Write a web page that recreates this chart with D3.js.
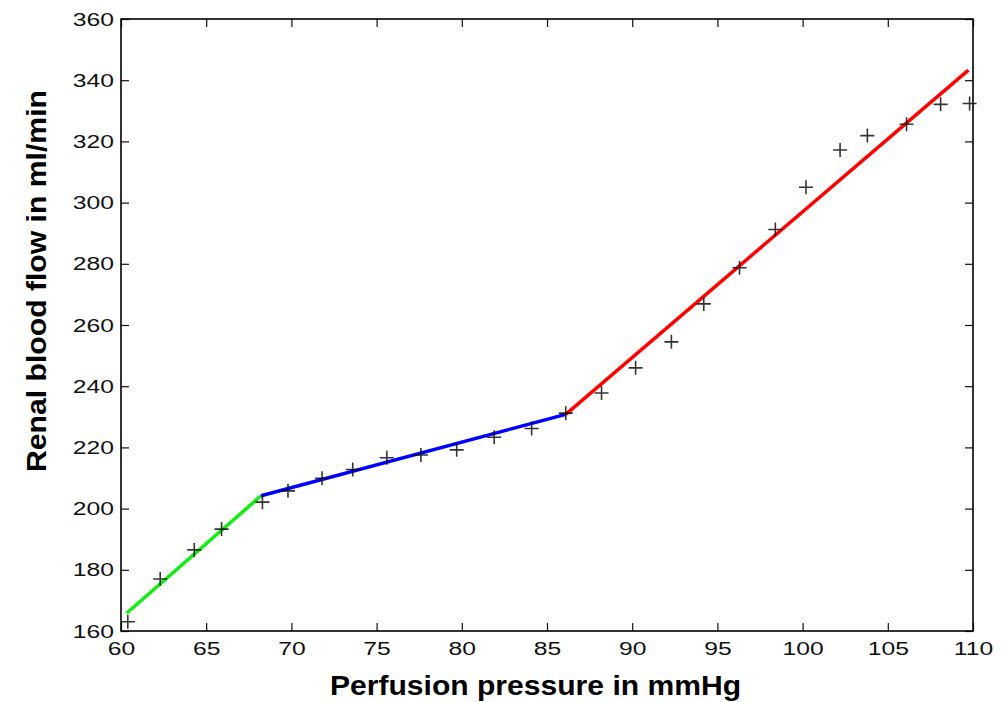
<!DOCTYPE html>
<html>
<head>
<meta charset="utf-8">
<script src="https://cdn.jsdelivr.net/npm/d3@7"></script>
<style>
    body { margin: 0; background: #fff; }
    .axis text { font-family: "Liberation Sans", Arial, sans-serif; font-size: 19px; fill: #111; }
    .axis path { display: none; }
    .axis line { stroke: #111; stroke-width: 1.2px; }
    .axis-label { font-family: "Liberation Sans", Arial, sans-serif; font-weight: bold; font-size: 28px; fill: #000; }
</style>
</head>
<body>
<div id="chart"></div>
<script>

// measured points (perfusion pressure, renal blood flow)
let pressure = [60.4, 62.3, 64.3, 65.9, 68.3, 69.8, 71.8, 73.6, 75.6, 77.6, 79.7, 81.9, 84.1,
    86.1, 88.2, 90.2, 92.3, 94.2, 96.3, 98.4, 100.2, 102.2, 103.8, 106.1, 108.1, 109.8];
let flow = [163.0, 177.0, 186.5, 193.3, 202.1, 205.8, 209.9, 212.8, 216.6, 217.5, 219.2, 223.3, 226.2,
    231.2, 237.8, 246.0, 254.5, 266.9, 278.7, 291.2, 305.0, 317.2, 321.9, 325.6, 332.1, 332.4];

// piecewise linear fit: breakpoints and segment colours
let fitX = [60.33, 68.22, 86.1, 109.73];
let fitY = [165.8, 204.2, 230.8, 343.3];
let segColors = ['#11ee11', '#0000ff', '#ff0000'];

let xTicks = [60, 65, 70, 75, 80, 85, 90, 95, 100, 105, 110];
let yTicks = [160, 180, 200, 220, 240, 260, 280, 300, 320, 340, 360];

let margin = {top: 19, right: 35, bottom: 71, left: 121};
let width = 1008 - margin.left - margin.right;
let height = 702 - margin.top - margin.bottom;

let svg = d3.select('#chart').append('svg')
    .attr('width', 1008)
    .attr('height', 702)
    .append('g')
    .attr('transform', `translate(${margin.left}, ${margin.top})`);

let x = d3.scaleLinear().domain([60, 110]).range([0, width]);
let y = d3.scaleLinear().domain([160, 360]).range([height, 0]);

// axes, ticks pointing inward
let tick = 8;
svg.append('g')
    .attr('class', 'axis')
    .attr('transform', `translate(0, ${height})`)
    .call(d3.axisBottom(x).tickValues(xTicks).tickSizeInner(-tick).tickSizeOuter(0).tickPadding(11))
    .selectAll('text')
    .attr('transform', 'scale(1.3,1)');

svg.append('g')
    .attr('class', 'axis')
    .call(d3.axisLeft(y).tickValues(yTicks).tickSizeInner(-tick).tickSizeOuter(0).tickPadding(7))
    .selectAll('text')
    .attr('x', -7 / 1.3)
    .attr('transform', 'scale(1.3,1)');

svg.append('g')
    .attr('class', 'axis')
    .call(d3.axisTop(x).tickValues(xTicks).tickSizeInner(-tick).tickSizeOuter(0).tickFormat(''));

svg.append('g')
    .attr('class', 'axis')
    .attr('transform', `translate(${width}, 0)`)
    .call(d3.axisRight(y).tickValues(yTicks).tickSizeInner(-tick).tickSizeOuter(0).tickFormat(''));

// frame
svg.append('rect')
    .attr('width', width)
    .attr('height', height)
    .attr('fill', 'none')
    .attr('stroke', '#000')
    .attr('stroke-width', 1.6);

// fitted segments
let segments = segColors.map((c, i) => ({
    color: c,
    pts: [[fitX[i], fitY[i]], [fitX[i + 1], fitY[i + 1]]]
}));

let line = d3.line().x(d => x(d[0])).y(d => y(d[1]));

svg.selectAll('.seg')
    .data(segments)
    .enter()
    .append('path')
    .attr('class', 'seg')
    .attr('d', d => line(d.pts))
    .attr('fill', 'none')
    .attr('stroke', d => d.color)
    .attr('stroke-width', 3.5)
    .attr('stroke-linecap', 'butt');

// plus markers
let s = 7;
svg.selectAll('.pt')
    .data(pressure.map((p, i) => [p, flow[i]]))
    .enter()
    .append('path')
    .attr('class', 'pt')
    .attr('d', d => {
        let cx = x(d[0]), cy = y(d[1]);
        return `M${cx - s},${cy}H${cx + s}M${cx},${cy - s}V${cy + s}`;
    })
    .attr('stroke', '#000')
    .attr('stroke-opacity', 0.8)
    .attr('stroke-width', 1.6)
    .attr('fill', 'none');

// axis labels
d3.select('svg').append('text')
    .attr('class', 'axis-label')
    .attr('x', 535.5)
    .attr('y', 695)
    .attr('text-anchor', 'middle')
    .attr('textLength', 411)
    .attr('lengthAdjust', 'spacingAndGlyphs')
    .text('Perfusion pressure in mmHg');

d3.select('svg').append('text')
    .attr('class', 'axis-label')
    .attr('transform', 'translate(46, 281) rotate(-90)')
    .attr('text-anchor', 'middle')
    .attr('textLength', 382)
    .attr('lengthAdjust', 'spacingAndGlyphs')
    .text('Renal blood flow in ml/min');

</script>
</body>
</html>
